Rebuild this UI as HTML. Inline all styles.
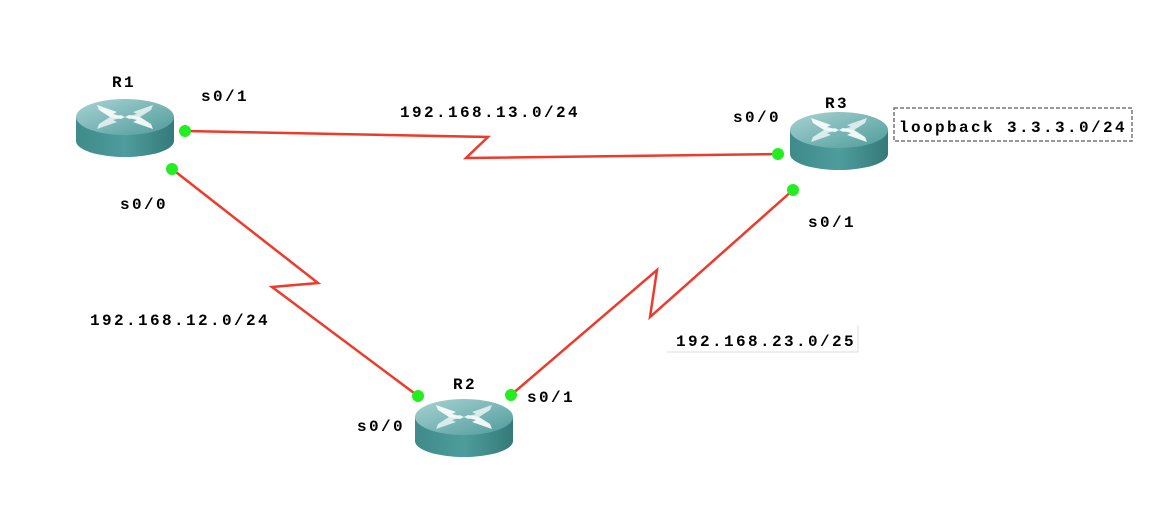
<!DOCTYPE html>
<html><head><meta charset="utf-8"><style>
html,body{margin:0;padding:0;background:#fff;width:1160px;height:518px;overflow:hidden}
text{font-family:"Liberation Mono","Noto Sans CJK SC",monospace;font-weight:bold;font-size:16px;fill:#000;letter-spacing:2.4px}
</style></head><body>
<svg width="1160" height="518" viewBox="0 0 1160 518" xmlns="http://www.w3.org/2000/svg">
<defs>
<linearGradient id="tg" x1="0" y1="0" x2="1" y2="1"><stop offset="0" stop-color="#a9d3d3"/><stop offset="1" stop-color="#4f9b9b"/></linearGradient>
<linearGradient id="bg" x1="0" y1="0" x2="1" y2="0"><stop offset="0" stop-color="#3f8a8a"/><stop offset="0.5" stop-color="#4e9c9c"/><stop offset="1" stop-color="#357a7a"/></linearGradient>
<g id="rt">
<path d="M-49,18 L-49,42 A49,16 0 0 0 49,42 L49,18 Z" fill="url(#bg)"/>
<ellipse cx="0" cy="18" rx="49" ry="18" fill="url(#tg)"/>
<g fill="#fff" opacity="0.9">
<path d="M-28,6 L-8,13 L-12,15 L0,18 L-4,20 L-15,18 L-26,11 Z"/>
<path d="M28,6 L8,13 L12,15 L0,18 L4,20 L15,18 L26,11 Z" opacity="0.8"/>
<path d="M-28,30 L-8,23 L-12,21 L0,18 L-4,16 L-15,18 L-26,25 Z" opacity="0.8"/>
<path d="M28,30 L8,23 L12,21 L0,18 L4,16 L15,18 L26,25 Z"/>
</g>
</g>
</defs>
<g stroke="#ee3a2a" stroke-width="2.5" fill="none">
<polyline points="185,131 488,137 466,158 778,154"/>
<polyline points="172,169 318,283 272,287 418,396"/>
<polyline points="793,190 650,317 657,270 511,395"/>
</g>
<use href="#rt" x="125" y="99"/>
<use href="#rt" x="839" y="112"/>
<use href="#rt" x="464" y="399"/>
<g fill="#22ee22">
<circle cx="185" cy="131" r="6"/><circle cx="172" cy="169" r="6"/>
<circle cx="778" cy="154" r="6"/><circle cx="793" cy="190" r="6"/>
<circle cx="418" cy="396" r="6"/><circle cx="511" cy="395" r="6"/>
</g>
<text x="112" y="87">R1</text>
<text x="825" y="108">R3</text>
<text x="453" y="389">R2</text>
<text x="201" y="101">s0/1</text>
<text x="120" y="209">s0/0</text>
<text x="733" y="122">s0/0</text>
<text x="808" y="227">s0/1</text>
<text x="357" y="431">s0/0</text>
<text x="527" y="402">s0/1</text>
<text x="400" y="117">192.168.13.0/24</text>
<text x="90" y="325">192.168.12.0/24</text>
<text x="676" y="346">192.168.23.0/25</text>
<line x1="666" y1="352" x2="858" y2="352" stroke="#ddd" stroke-width="1"/>
<line x1="858" y1="325" x2="858" y2="352" stroke="#ddd" stroke-width="1"/>
<rect x="894" y="108" width="238" height="33" fill="none" stroke="#777" stroke-width="1.5" stroke-dasharray="4,2"/>
<text x="899" y="132">loopback 3.3.3.0/24</text>
</svg>
</body></html>
